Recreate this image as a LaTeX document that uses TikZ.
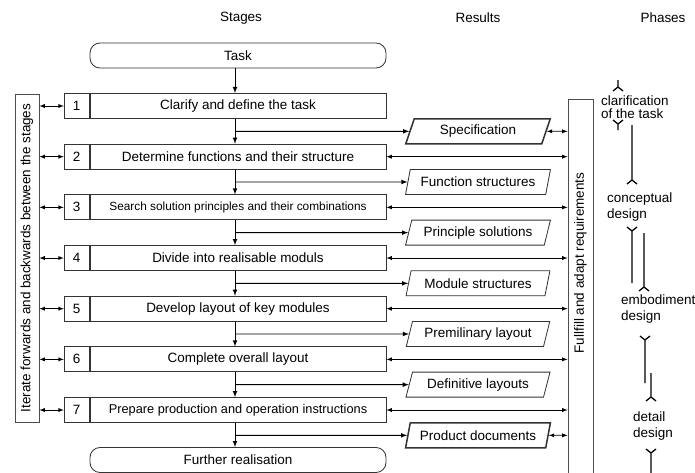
\documentclass[tikz,border=0pt]{standalone}
\usepackage{fontspec}
\setmainfont{Liberation Sans}
\usetikzlibrary{calc}
\usetikzlibrary{arrows.meta}
\usetikzlibrary{positioning}
\usetikzlibrary{shapes.geometric}

\begin{document}
\begin{tikzpicture}[x=0.03cm, y=-0.03cm, font=\fontsize{11.5}{13}\selectfont,
    stagebox/.style={draw=black!80, line width=0.7pt, minimum height=0.75cm, inner sep=0pt},
    terminal/.style={draw=black!80, line width=0.7pt, rounded corners=0.3cm, minimum width=8.88cm, minimum height=0.75cm},
    result/.style={trapezium, trapezium left angle=68, trapezium right angle=112, trapezium stretches=true,
        draw=black!80, minimum width=4.35cm, minimum height=0.75cm, inner sep=0pt},
    flow/.style={thick, -latex},
    both/.style={semithick, latex-latex},
    phase/.style={align=left, anchor=west, inner sep=0pt},
    bar/.style={line width=1.1pt}]

    \useasboundingbox (0,0) rectangle (695,472);

    \coordinate (spine) at (235,0);

    % column titles
    \node (hstages) at (241,18) {Stages};
    \node (hresults) at (478,18) {Results};
    \node (hphases) at (663,18) {Phases};

    \node[terminal] (task) at (238,55.5) {Task};

    % the seven stages
    \foreach \i/\txt/\fs in {1/Clarify and define the task/11.5,
        2/Determine functions and their structure/11.5,
        3/Search solution principles and their combinations/10.1,
        4/Divide into realisable moduls/11.5,
        5/Develop layout of key modules/11.5,
        6/Complete overall layout/11.5,
        7/Prepare production and operation instructions/10.9}
    {
        \node[stagebox, minimum width=8.88cm, font=\fontsize{\fs}{13}\selectfont] (s\i) at (238,{106+50.67*(\i-1)}) {\txt};
        \node[stagebox, minimum width=0.75cm, left=0pt of s\i] (n\i) {\i};
    }

    \node[terminal] (further) at (238,460) {Further realisation};

    % results
    \foreach \i/\txt/\lw in {1/Specification/1.3pt,
        2/Function structures/0.7pt,
        3/Principle solutions/0.7pt,
        4/Module structures/0.7pt,
        5/Premilinary layout/0.7pt,
        6/Definitive layouts/0.7pt,
        7/Product documents/1.3pt}
    {
        \node[result, line width=\lw] (r\i) at (478,{131.3+50.67*(\i-1)}) {\txt};
    }

    % side boxes
    \node[draw=black!70, line width=0.7pt, minimum width=0.72cm, minimum height=9.84cm] (iter) at (27,258) {};
    \node[rotate=90] (itertext) at (iter) {Iterate forwards and backwards between the stages};
    \node[draw=black!70, line width=0.7pt, minimum width=0.75cm, minimum height=12cm, anchor=north] (req) at (580.5,99) {};
    \node[rotate=90] (reqtext) at (580.5,263) {Fullfill and adapt requirements};

    % main flow
    \draw[flow] (task.south -| spine) -- (s1.north -| spine);
    \foreach \i [count=\j from 2] in {1,...,6}
        \draw[flow] (s\i.south -| spine) -- (s\j.north -| spine);
    \draw[flow] (s7.south -| spine) -- (further.north -| spine);

    % branches to the results
    \foreach \i in {1,...,7}
        \draw[flow] (r\i -| spine) -- (r\i);

    % iterate and requirements arrows
    \foreach \i in {1,...,7}
        \draw[both] (iter.east |- n\i) -- (n\i);
    \foreach \i in {2,...,7}
        \draw[both] (s\i) -- (s\i -| req.west);
    \draw[both] (r1) -- (r1 -| req.west);
    \draw[both] (r7) -- (r7 -| req.west);

    % phases
    \node[phase, font=\fontsize{11.5}{11}\selectfont] (clar) at (601,107) {clarification\\of the task};
    \node[phase] (conc) at (607,207) {conceptual\\design};
    \node[phase] (embo) at (621,309) {embodiment\\design};
    \node[phase] (deta) at (633,426) {detail\\design};

    \draw[bar] (618,80) -- (618,87) (613,91) -- (618,87) -- (623,91);
    \draw[bar] (613,120) -- (618,124) -- (623,120) (618,124) -- (618,130);
    \draw[bar] (632,125) -- (632,180) (627,184) -- (632,180) -- (637,184);
    \draw[bar] (627,227) -- (632,231) -- (637,227) (632,231) -- (632,283);
    \draw[bar] (644,233) -- (644,287) (639,291) -- (644,287) -- (649,291);
    \draw[bar] (640,336) -- (645,340) -- (650,336) (645,340) -- (645,383);
    \draw[bar] (651,373) -- (651,397) (646,401) -- (651,397) -- (656,401);
    \draw[bar] (646,449) -- (651,453) -- (656,449) (651,453) -- (651,480);

\end{tikzpicture}
\end{document}
